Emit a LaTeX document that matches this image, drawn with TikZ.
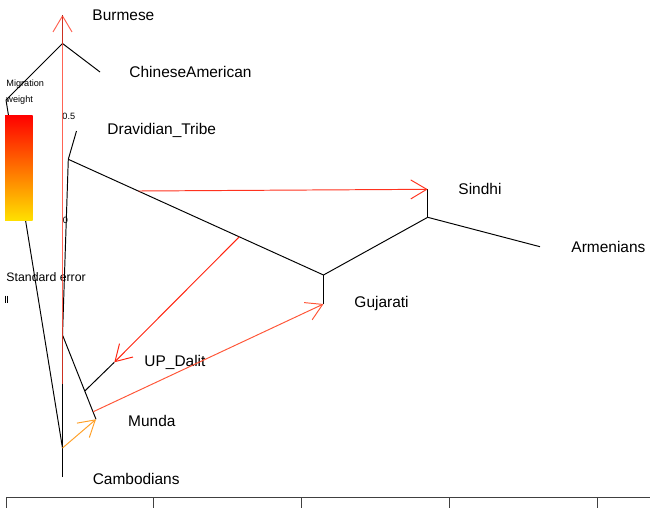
\documentclass[tikz,border=0pt]{standalone}
\usepackage{fontspec}
\setmainfont{Liberation Sans}
\usetikzlibrary{arrows.meta}
\definecolor{migA}{RGB}{255,50,30}
\definecolor{migB}{RGB}{255,35,15}
\definecolor{migC}{RGB}{255,85,55}
\definecolor{migD}{RGB}{255,160,40}
\definecolor{migE}{RGB}{255,60,40}
\definecolor{barlo}{RGB}{255,225,0}

\begin{document}
\begin{tikzpicture}[x=0.02cm,y=-0.02cm,line width=0.55pt,
    pop/.style={anchor=west,inner sep=0pt,font=\fontsize{8.8}{10}\selectfont},
    tiny/.style={anchor=west,inner sep=0pt,font=\fontsize{5.2}{6}\selectfont},
    mig/.style={-{Straight Barb[length=0.32cm,width=0.38cm]}}]
    \useasboundingbox (0,0) rectangle (650,508);

    \coordinate (root) at (62.5,477);
    \coordinate (camb) at (62.5,448);
    \coordinate (kink) at (6,100);
    \coordinate (bur) at (62.5,43.5);
    \coordinate (burL) at (62.5,15);
    \coordinate (chiL) at (100,72);
    \coordinate (ind) at (62.5,335);
    \coordinate (dra) at (68.3,159.3);
    \coordinate (draL) at (76.5,131);
    \coordinate (gs) at (323.5,275);
    \coordinate (gujL) at (323.5,304);
    \coordinate (sa) at (427.7,217.3);
    \coordinate (sinL) at (427.7,189.3);
    \coordinate (armL) at (540,246.7);
    \coordinate (upd) at (84.8,391);
    \coordinate (updL) at (114.3,362.3);
    \coordinate (munL) at (96,419.3);

    \coordinate (m1) at (138.3,191);
    \coordinate (m2) at (239.3,236.8);
    \coordinate (m3) at (93.3,411.7);
    \coordinate (m5) at (62.5,384);

    \node[pop] (burmese) at (92,15) {Burmese};
    \node[pop] (chinese) at (129,72) {ChineseAmerican};
    \node[pop] (dravidian) at (107,130) {Dravidian\_Tribe};
    \node[pop] (sindhi) at (458,189.3) {Sindhi};
    \node[pop] (armenians) at (571,247.3) {Armenians};
    \node[pop] (gujarati) at (354,303.5) {Gujarati};
    \node[pop] (updalit) at (144,362.3) {UP\_Dalit};
    \node[pop] (munda) at (127.7,420.7) {Munda};
    \node[pop] (cambodians) at (92.3,479.3) {Cambodians};

    \path[-] (root) edge (camb)
             (camb) edge (kink)
             (kink) edge (bur)
             (bur) edge (burL)
             (bur) edge (chiL)
             (camb) edge (ind)
             (ind) edge (dra)
             (dra) edge (draL)
             (dra) edge (gs)
             (gs) edge (gujL)
             (gs) edge (sa)
             (sa) edge (sinL)
             (sa) edge (armL)
             (ind) edge (munL)
             (upd) edge (updL);

    \shade[top color=red,bottom color=barlo] (5,115) rectangle (32.7,220.7);
    \node[tiny] (migr) at (6,84) {Migration};
    \node[tiny] (wgt) at (6,100) {weight};
    \node[tiny] (half) at (62,116.5) {0.5};
    \node[tiny] (zero) at (62.5,220) {0};
    \node[anchor=west,inner sep=0pt,font=\fontsize{7}{8}\selectfont] (se) at (6,277.3) {Standard error};
    \draw[line width=0.4pt] (5.5,295.5) -- (5.5,302.5) (7.6,295.5) -- (7.6,302.5);

    \path[mig] (m1) edge[migA] (sinL)
               (m2) edge[migB] (updL)
               (m3) edge[migC] (gujL)
               (camb) edge[migD] (munL)
               (m5) edge[migE,draw opacity=0.8] (burL);

    \draw[black!75] (6,497) -- (650,497);
    \foreach \x in {6,153.5,301,449,597}
        \draw[black!75] (\x,497) -- (\x,508);
\end{tikzpicture}
\end{document}
